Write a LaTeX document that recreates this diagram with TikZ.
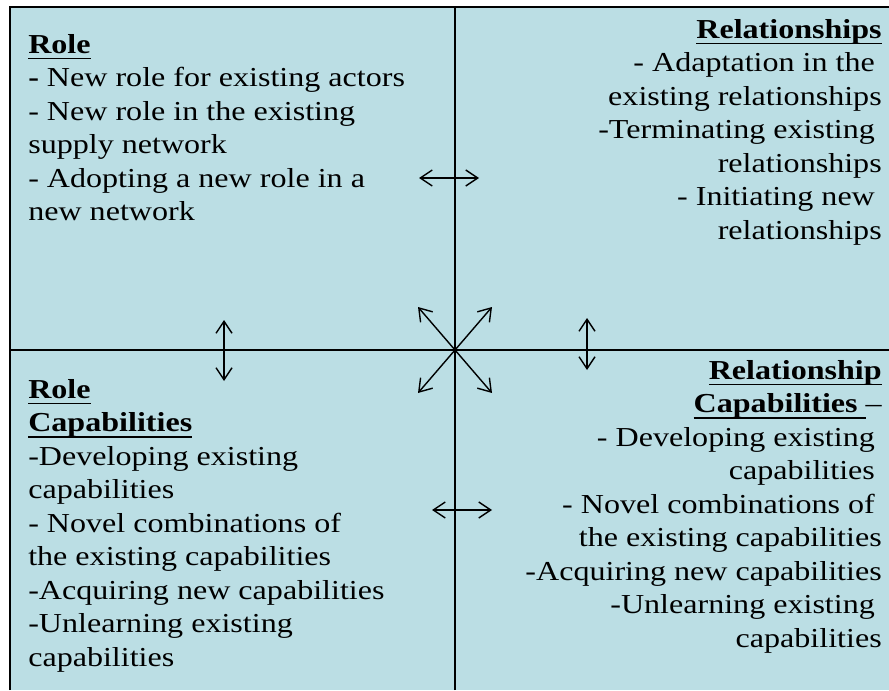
\documentclass[tikz,border=0pt]{standalone}
\usepackage{fontspec}
\setmainfont{Liberation Serif}[FakeStretch=1.17]
\usetikzlibrary{arrows.meta}
\definecolor{quadblue}{RGB}{187,222,228}
\newcommand\tsp{\hbox to 0.25em{}}
\newcommand\hdl[1]{\setbox0\hbox{#1}\rlap{\vrule height -0.15em depth 0.21em width \wd0}\box0}

\begin{document}
\begin{tikzpicture}[
		txt/.style={inner sep=0pt, font=\fontsize{19.5}{23.8}\selectfont},
		frame/.style={line width=1.2pt},
		dbl/.style={{Straight Barb[length=3mm,width=4mm]}-{Straight Barb[length=3mm,width=4mm]}, line width=1pt},
		sgl/.style={-{Straight Barb[length=3mm,width=4mm]}, line width=1pt}]
		\useasboundingbox (0,0) rectangle (22.225,17.25);
		\fill[quadblue] (0.25,0) rectangle (22.225,17.075);
		\draw[frame] (0.25,0) -- (0.25,17.075) -- (22.225,17.075);
		\draw[frame] (11.375,0) -- (11.375,17.075);
		\draw[frame] (0.25,8.5) -- (22.225,8.5);
		% quadrants
		\node[txt, anchor=north west, align=left] (role) at (0.7,16.395) {\hdl{\textbf{Role}}\\
			\textbf{-} New role for existing actors\\
			- New role in the existing\\
			supply network\\
			- Adopting a new role in a\\
			new network};
		\node[txt, anchor=north east, align=right] (rel) at (22.05,16.77) {\hdl{\textbf{Relationships}}\\
			- Adaptation in the\tsp\\
			existing relationships\\
			-Terminating existing\tsp\\
			relationships\\
			- Initiating new\tsp\\
			relationships};
		\node[txt, anchor=north west, align=left] (rolecap) at (0.7,7.77) {\hdl{\textbf{Role}}\\
			\hdl{\textbf{Capabilities}}\\
			-Developing existing\\
			capabilities\\
			- Novel combinations of\\
			the existing capabilities\\
			-Acquiring new capabilities\\
			-Unlearning existing\\
			capabilities};
		\node[txt, anchor=north east, align=right] (relcap) at (22.05,8.245) {\hdl{\textbf{Relationship}}\\
			\hdl{\textbf{Capabilities}\ }--\\
			- Developing existing\tsp\\
			capabilities\tsp\\
			- Novel combinations of\tsp\\
			the existing capabilities\\
			-Acquiring new capabilities\\
			-Unlearning existing\tsp\\
			capabilities};
		% arrows
		\coordinate (mid) at (11.375,8.5);
		\coordinate (topL) at (10.475,12.8);
		\coordinate (topR) at (11.975,12.8);
		\coordinate (botL) at (10.8,4.5);
		\coordinate (botR) at (12.3,4.5);
		\coordinate (lefU) at (5.6,9.25);
		\coordinate (lefD) at (5.6,7.725);
		\coordinate (rigU) at (14.675,9.3);
		\coordinate (rigD) at (14.675,8.0);
		\draw[dbl] (topL) -- (topR);
		\draw[dbl] (botL) -- (botR);
		\draw[dbl] (lefU) -- (lefD);
		\draw[dbl] (rigU) -- (rigD);
		\draw[sgl] (mid) -- ++(-0.925,1.075);
		\draw[sgl] (mid) -- ++(0.925,1.075);
		\draw[sgl] (mid) -- ++(-0.925,-1.075);
		\draw[sgl] (mid) -- ++(0.925,-1.075);
\end{tikzpicture}
\end{document}
